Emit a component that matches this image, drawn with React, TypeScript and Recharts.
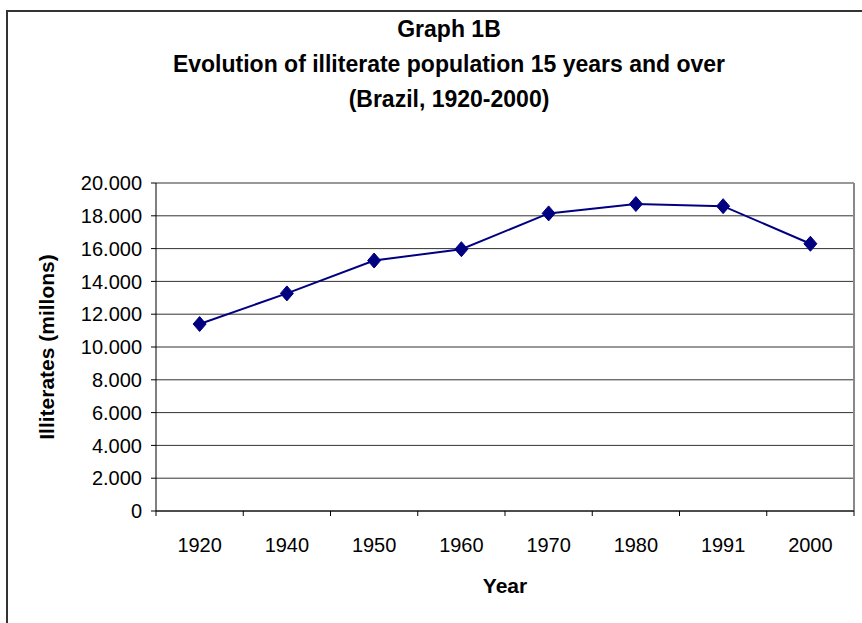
import React from "react";
import {
  LineChart,
  Line,
  XAxis,
  YAxis,
  CartesianGrid,
} from "recharts";

// illiterates aged 15+, thousands
const years = ["1920", "1940", "1950", "1960", "1970", "1980", "1991", "2000"];
const illiterates = [11401, 13269, 15272, 15964, 18147, 18717, 18588, 16295];
const yTicks = [0, 2000, 4000, 6000, 8000, 10000, 12000, 14000, 16000, 18000, 20000];

const data = years.map((year, i) => ({ year, value: illiterates[i] }));

const W = 862;
const H = 623;
const margin = { top: 183, right: 8, bottom: 0, left: 6 };
const yAxisW = 150;
const xAxisH = 112;
const plotW = W - margin.left - margin.right - yAxisW;
const bandW = plotW / years.length;
const font = "'Liberation Sans', Arial, sans-serif";
const navy = "#000080";

const fmt = (v: number) => v.toLocaleString("de-DE");

const Diamond = (props: any) => {
  const { cx, cy } = props;
  if (cx == null || cy == null) return null;
  return (
    <path
      d={`M${cx},${cy - 7.5} L${cx + 6.5},${cy} L${cx},${cy + 7.5} L${cx - 6.5},${cy} Z`}
      fill={navy}
      stroke={navy}
    />
  );
};

const YearTick = (props: any) => {
  const { x, y, payload, index } = props;
  const left = x - bandW / 2;
  return (
    <g>
      <line x1={left} y1={y - 8} x2={left} y2={y - 3} stroke="#000" />
      {index === years.length - 1 && (
        <line x1={x + bandW / 2} y1={y - 8} x2={x + bandW / 2} y2={y - 3} stroke="#000" />
      )}
      <text x={x} y={y + 33} textAnchor="middle" fontFamily={font} fontSize={20} fill="#000">
        {payload.value}
      </text>
    </g>
  );
};

export default function App() {
  return (
    <div style={{ position: "fixed", left: 0, top: 0, width: W, height: H, background: "#fff", overflow: "hidden" }}>
      <div
        style={{
          position: "absolute",
          left: 6,
          top: 10,
          width: W + 20,
          height: H + 20,
          borderLeft: "2px solid #333",
          borderTop: "2px solid #333",
        }}
      />
      <div
        style={{
          position: "absolute",
          left: 0,
          top: 12,
          width: 898,
          textAlign: "center",
          fontFamily: font,
          fontWeight: "bold",
          fontSize: 23,
          lineHeight: "35px",
          color: "#000",
        }}
      >
        <div>Graph 1B</div>
        <div>Evolution of illiterate population 15 years and over</div>
        <div>(Brazil, 1920-2000)</div>
      </div>
      <div style={{ position: "absolute", left: 0, top: 0 }}>
        <LineChart width={W} height={H} data={data} margin={margin}>
          <CartesianGrid vertical={false} stroke="#333" horizontalValues={yTicks} />
          <CartesianGrid
            horizontal={false}
            stroke="#888"
            strokeWidth={2}
            verticalCoordinatesGenerator={({ offset }: any) => [offset.left + offset.width]}
          />
          <XAxis
            dataKey="year"
            scale="band"
            height={xAxisH}
            axisLine={{ stroke: "#000" }}
            tickLine={false}
            tick={<YearTick />}
            interval={0}
            label={{
              value: "Year",
              position: "insideBottom",
              offset: 30,
              fontFamily: font,
              fontSize: 21,
              fontWeight: "bold",
              fill: "#000",
            }}
          />
          <YAxis
            domain={[0, 20000]}
            ticks={yTicks}
            interval={0}
            tickFormatter={fmt}
            axisLine={{ stroke: "#000" }}
            tickLine={{ stroke: "#000" }}
            tickSize={5}
            tickMargin={9}
            tick={{ fontFamily: font, fontSize: 20, fill: "#000" }}
            width={yAxisW}
            label={{
              value: "Illiterates (millons)",
              angle: -90,
              position: "insideLeft",
              offset: 0,
              dx: 41,
              fontFamily: font,
              fontSize: 21,
              fontWeight: "bold",
              fill: "#000",
              style: { textAnchor: "middle" },
            }}
          />
          <Line
            type="linear"
            dataKey="value"
            stroke={navy}
            strokeWidth={2}
            dot={<Diamond />}
            activeDot={false}
            isAnimationActive={false}
          />
        </LineChart>
      </div>
    </div>
  );
}
